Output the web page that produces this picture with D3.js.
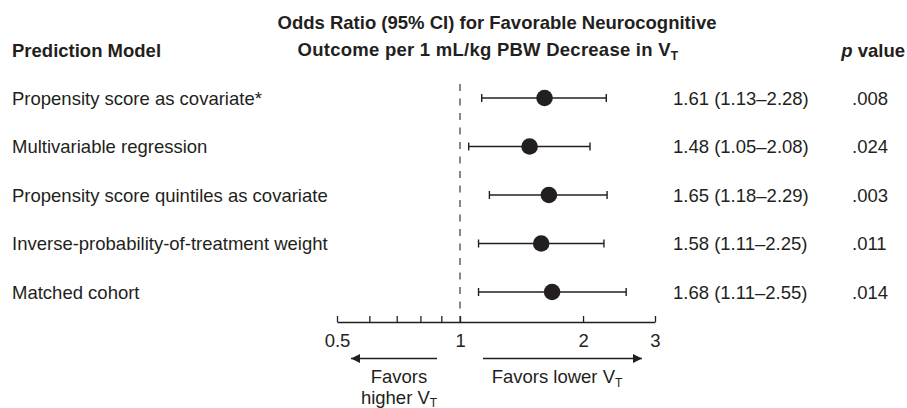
<!DOCTYPE html>
<html>
<head>
<meta charset="utf-8">
<script src="https://cdn.jsdelivr.net/npm/d3@7"></script>
<style>
  html, body { margin: 0; padding: 0; background: #fff; }
  svg { display: block; }
  text { font-family: "Liberation Sans", Arial, Helvetica, sans-serif; fill: #231f20; }
</style>
</head>
<body>
<svg id="chart" width="907" height="408"></svg>
<script>
const models = [
  "Propensity score as covariate*",
  "Multivariable regression",
  "Propensity score quintiles as covariate",
  "Inverse-probability-of-treatment weight",
  "Matched cohort"
];
const oddsRatios = [1.61, 1.48, 1.65, 1.58, 1.68];
const ciLower = [1.13, 1.05, 1.18, 1.11, 1.11];
const ciUpper = [2.28, 2.08, 2.29, 2.25, 2.55];
const pValues = [".008", ".024", ".003", ".011", ".014"];
const tickValues = [0.5, 0.6, 0.7, 0.8, 0.9, 1, 2, 3];
const tickLabels = {0.5: "0.5", 1: "1", 2: "2", 3: "3"};

const rows = models.map((m, i) => ({
  model: m, or: oddsRatios[i], lo: ciLower[i], hi: ciUpper[i], p: pValues[i]
}));

const svg = d3.select("#chart");
const FS = 18.5;
const ink = "#231f20";

const x = d3.scaleLog().domain([0.5, 3]).range([337, 655]);
const y = d3.scalePoint().domain(models).range([98, 292]);
const axisY = 322;

// Headers
svg.append("text").attr("x", 12).attr("y", 56.5)
  .attr("font-size", FS).attr("font-weight", "bold").text("Prediction Model");

svg.append("text").attr("x", 497).attr("y", 28.5).attr("text-anchor", "middle")
  .attr("font-size", FS).attr("font-weight", "bold")
  .text("Odds Ratio (95% CI) for Favorable Neurocognitive");

const t2 = svg.append("text").attr("x", 488).attr("y", 55.5).attr("text-anchor", "middle")
  .attr("font-size", FS).attr("font-weight", "bold").attr("letter-spacing", 0.25);
t2.append("tspan").text("Outcome per 1 mL/kg PBW Decrease in V");
t2.append("tspan").attr("font-size", 12).attr("dy", 4).text("T");

const ph = svg.append("text").attr("x", 905).attr("y", 56.5).attr("text-anchor", "end")
  .attr("font-size", FS).attr("font-weight", "bold");
ph.append("tspan").attr("font-style", "italic").text("p");
ph.append("tspan").text(" value");

// Reference dashed line at OR = 1
svg.append("line")
  .attr("x1", x(1)).attr("x2", x(1))
  .attr("y1", 84).attr("y2", axisY)
  .attr("stroke", "#555").attr("stroke-width", 1.4)
  .attr("stroke-dasharray", "7,7.5");

// Axis
const axis = d3.axisBottom(x)
  .tickValues(tickValues)
  .tickFormat(d => tickLabels[d] || "")
  .tickSizeInner(-6).tickSizeOuter(0).tickPadding(0);
const gAxis = svg.append("g").attr("transform", `translate(0,${axisY})`).call(axis);
gAxis.select(".domain").attr("stroke", ink).attr("stroke-width", 1.3);
gAxis.selectAll(".tick line").attr("stroke", ink).attr("stroke-width", 1.3);
gAxis.selectAll(".tick text")
  .attr("dy", null).attr("y", 25)
  .attr("font-size", FS).attr("font-family", "Liberation Sans, Arial, sans-serif")
  .attr("fill", ink);

// Row labels
svg.append("g").selectAll("text").data(rows).join("text")
  .attr("x", 12).attr("y", d => y(d.model) + 6.5)
  .attr("font-size", FS).text(d => d.model);

// CI lines
const g = svg.append("g");
g.selectAll("line.ci").data(rows).join("line").attr("class", "ci")
  .attr("x1", d => x(d.lo)).attr("x2", d => x(d.hi))
  .attr("y1", d => y(d.model)).attr("y2", d => y(d.model))
  .attr("stroke", ink).attr("stroke-width", 1.4);
g.selectAll("line.capL").data(rows).join("line").attr("class", "capL")
  .attr("x1", d => x(d.lo)).attr("x2", d => x(d.lo))
  .attr("y1", d => y(d.model) - 4).attr("y2", d => y(d.model) + 4)
  .attr("stroke", ink).attr("stroke-width", 1.4);
g.selectAll("line.capR").data(rows).join("line").attr("class", "capR")
  .attr("x1", d => x(d.hi)).attr("x2", d => x(d.hi))
  .attr("y1", d => y(d.model) - 4).attr("y2", d => y(d.model) + 4)
  .attr("stroke", ink).attr("stroke-width", 1.4);
g.selectAll("circle").data(rows).join("circle")
  .attr("cx", d => x(d.or)).attr("cy", d => y(d.model)).attr("r", 8.3)
  .attr("fill", ink);

// CI text and p values
const fmt = d3.format(".2f");
svg.append("g").selectAll("text").data(rows).join("text")
  .attr("x", 673).attr("y", d => y(d.model) + 6.5)
  .attr("font-size", FS)
  .text(d => `${fmt(d.or)} (${fmt(d.lo)}\u2013${fmt(d.hi)})`);
svg.append("g").selectAll("text").data(rows).join("text")
  .attr("x", 852).attr("y", d => y(d.model) + 6.5)
  .attr("font-size", FS).text(d => d.p);

// Arrows
const defs = svg.append("defs");
defs.append("marker").attr("id", "arrow")
  .attr("viewBox", "0 0 10 10").attr("refX", 10).attr("refY", 5)
  .attr("markerUnits", "userSpaceOnUse")
  .attr("markerWidth", 12).attr("markerHeight", 9).attr("orient", "auto")
  .append("path").attr("d", "M0,0 L10,5 L0,10 Z").attr("fill", ink);

const arrowY = 358.5;
svg.append("line").attr("x1", 437).attr("x2", 351).attr("y1", arrowY).attr("y2", arrowY)
  .attr("stroke", ink).attr("stroke-width", 1.5).attr("marker-end", "url(#arrow)");
svg.append("line").attr("x1", 483).attr("x2", 642).attr("y1", arrowY).attr("y2", arrowY)
  .attr("stroke", ink).attr("stroke-width", 1.5).attr("marker-end", "url(#arrow)");

svg.append("text").attr("x", 399).attr("y", 383).attr("text-anchor", "middle")
  .attr("font-size", FS).text("Favors");
const hv = svg.append("text").attr("x", 399).attr("y", 403.5).attr("text-anchor", "middle")
  .attr("font-size", FS);
hv.append("tspan").text("higher V");
hv.append("tspan").attr("font-size", 12).attr("dy", 3).text("T");

const lv = svg.append("text").attr("x", 557).attr("y", 383).attr("text-anchor", "middle")
  .attr("font-size", FS);
lv.append("tspan").text("Favors lower V");
lv.append("tspan").attr("font-size", 12).attr("dy", 4).text("T");
</script>
</body>
</html>
